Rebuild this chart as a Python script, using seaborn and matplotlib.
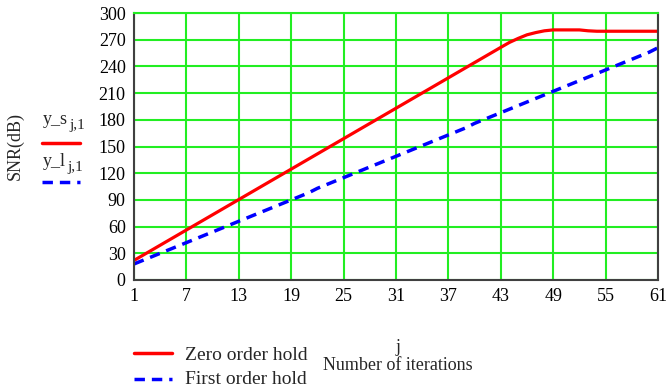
import matplotlib
matplotlib.use("Agg")
import matplotlib.pyplot as plt
import seaborn as sns
import pandas as pd
import numpy as np

iterations = list(range(1, 62))
zero_order = [22, 27.7, 33.4, 39.1, 44.8, 50.5, 56.2, 61.9, 67.6, 73.3,
              79, 84.7, 90.4, 96.1, 101.8, 107.5, 113.2, 118.9, 124.6, 130.3,
              136, 141.7, 147.4, 153.1, 158.8, 164.5, 170.2, 175.9, 181.6, 187.3,
              193, 198.7, 204.4, 210.1, 215.8, 221.5, 227.2, 232.9, 238.6, 244.3,
              250, 255.7, 261.4, 267, 271.5, 275.5, 278, 280, 281, 281,
              281, 281, 280, 279.5, 279.5, 279.5, 279.5, 279.5, 279.5, 279.5,
              279.5]
first_order = [18, 22, 26, 30, 34, 38, 42, 46, 50, 54,
               58, 62, 66, 70, 74, 78, 82, 86, 90, 94,
               98, 103, 107, 111, 115, 119, 123, 127, 131, 135,
               139, 143, 147, 151, 155, 159, 163, 167, 171, 176,
               180, 184, 188, 192, 196, 200, 204, 208, 212, 216,
               220, 224, 228, 232, 236, 240, 244, 248, 252, 256,
               261]
x_ticks = [1, 7, 13, 19, 25, 31, 37, 43, 49, 55, 61]
y_ticks = list(range(0, 301, 30))

sns.set_style("white")
plt.rcParams['font.family'] = ['Liberation Serif', 'DejaVu Serif']

df = pd.DataFrame({"j": iterations, "zero": zero_order, "first": first_order})

W, H = 666, 392
fig = plt.figure(figsize=(W / 100, H / 100), dpi=100)
ax = fig.add_axes([134 / W, 1 - 280 / H, (658 - 134) / W, (280 - 13) / H])

grid_green = "#22ee22"
ax.set_xlim(1, 61)
ax.set_ylim(0, 300)
ax.set_xticks(x_ticks)
ax.set_yticks(y_ticks)
ax.grid(True, color=grid_green, linewidth=1.5)
ax.set_axisbelow(True)

sns.lineplot(data=df, x="j", y="zero", ax=ax, color="#ff0000", linewidth=2.3)
sns.lineplot(data=df, x="j", y="first", ax=ax, color="#0000ff", linewidth=2.5,
             linestyle=(0, (3, 2)))

for s in ["left", "bottom", "right"]:
    ax.spines[s].set_color("#404040")
    ax.spines[s].set_linewidth(1.5)
ax.spines["top"].set_color(grid_green)
ax.spines["top"].set_linewidth(1.5)

ax.tick_params(axis="both", length=0, labelsize=13, pad=6, colors="black")
ax.set_xlabel("")
ax.set_ylabel("")

def fx(px):
    return px / W

def fy(py):
    return 1 - py / H

fig.text(fx(15), fy(146), "SNR(dB)", rotation=90, ha="center", va="center", fontsize=13)
fig.text(fx(43), fy(119), "y_s", ha="left", va="center", fontsize=13)
fig.text(fx(69), fy(126), "j,1", ha="left", va="center", fontsize=11)
fig.add_artist(plt.Line2D([fx(42), fx(80)], [fy(143), fy(143)], color="#ff0000", linewidth=2.5))
fig.text(fx(43), fy(161), "y_l", ha="left", va="center", fontsize=13)
fig.text(fx(67), fy(168), "j,1", ha="left", va="center", fontsize=11)
fig.add_artist(plt.Line2D([fx(42), fx(80)], [fy(182), fy(182)], color="#0000ff", linewidth=2.5,
                          linestyle=(0, (3, 2))))

fig.text(fx(398), fy(348), "j", ha="center", va="center", fontsize=13)
fig.text(fx(398), fy(366), "Number of iterations", ha="center", va="center", fontsize=13)

fig.add_artist(plt.Line2D([fx(134), fx(172)], [fy(353), fy(353)], color="#ff0000", linewidth=2.5))
fig.text(fx(185), fy(355), "Zero order hold", ha="left", va="center", fontsize=14)
fig.add_artist(plt.Line2D([fx(134), fx(172)], [fy(379), fy(379)], color="#0000ff", linewidth=2.5,
                          linestyle=(0, (3, 2))))
fig.text(fx(185), fy(380), "First order hold", ha="left", va="center", fontsize=14)

fig.savefig("out.png", dpi=100)
